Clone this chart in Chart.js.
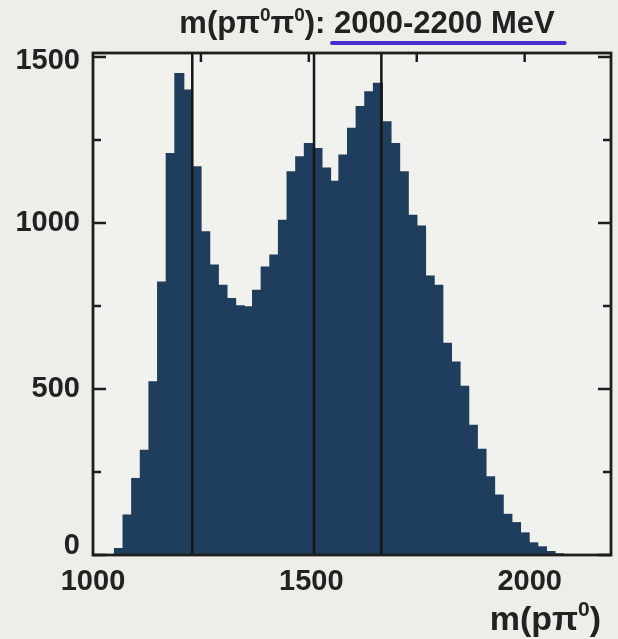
<!DOCTYPE html>
<html><head><meta charset="utf-8">
<script src="https://cdn.jsdelivr.net/npm/chart.js@4/dist/chart.umd.min.js"></script>
<style>html,body{margin:0;padding:0;background:#eeeee9;overflow:hidden}canvas{display:block}</style>
</head><body>
<canvas id="c" width="618" height="639"></canvas>
<script>
// ---- data ----
const binCenters = [1060,1080,1100,1120,1140,1160,1180,1200,1220,1240,1260,1280,1300,1320,1340,1360,1380,1400,1420,1440,1460,1480,1500,1520,1540,1560,1580,1600,1620,1640,1660,1680,1700,1720,1740,1760,1780,1800,1820,1840,1860,1880,1900,1920,1940,1960,1980,2000,2020,2040,2060,2080];
const counts = [19,120,230,315,521,822,1209,1450,1400,1169,973,873,812,772,750,747,797,867,903,1008,1154,1199,1239,1224,1165,1125,1204,1285,1350,1395,1420,1304,1239,1154,1023,990,840,812,637,581,508,390,318,235,180,122,97,66,36,24,10,3];
const yTickValues = [0, 500, 1000, 1500];
const yTickLabels = ['0', '500', '1000', '1500'];
const yMinorTicks = [0, 250, 500, 750, 1000, 1250, 1500];
const xTickValues = [1000, 1500, 2000];
const xTickLabels = ['1000', '1500', '2000'];
const xTopTicks = [1250, 1500, 1750, 2000];
const resonanceLines = [1230, 1512, 1668];
const titleParts = [
  {t: 'm(pπ'}, {t: '0', sup: true}, {t: 'π'}, {t: '0', sup: true}, {t: '): '},
  {t: '2000-2200 MeV', underline: true}
];
const xTitleParts = [{t: 'm(pπ'}, {t: '0', sup: true}, {t: ')'}];

const FONT = '"Liberation Sans", Arial, Helvetica, sans-serif';
const BG = '#eeeee9';
const INK = '#1e1e1e';

function richWidth(ctx, parts, size) {
  return parts.map(p => {
    ctx.font = 'bold ' + (p.sup ? Math.round(size * 0.62) : size) + 'px ' + FONT;
    return ctx.measureText(p.t).width;
  });
}
function drawRich(ctx, parts, x0, baseline, size, align) {
  const w = richWidth(ctx, parts, size);
  const total = w.reduce((a, b) => a + b, 0);
  let xx = align === 'center' ? x0 - total / 2 : (align === 'right' ? x0 - total : x0);
  ctx.textAlign = 'left';
  ctx.textBaseline = 'alphabetic';
  parts.forEach((p, i) => {
    ctx.font = 'bold ' + (p.sup ? Math.round(size * 0.62) : size) + 'px ' + FONT;
    ctx.fillText(p.t, xx, p.sup ? baseline - size * 0.40 : baseline);
    if (p.underline) {
      ctx.save();
      ctx.strokeStyle = '#4a2ccc';
      ctx.lineWidth = 4;
      ctx.lineCap = 'round';
      ctx.beginPath();
      ctx.moveTo(xx - 2, baseline + 10);
      ctx.lineTo(xx + w[i] + 10, baseline + 10);
      ctx.stroke();
      ctx.restore();
    }
    xx += w[i];
  });
}

const decor = {
  id: 'decor',
  beforeDraw(chart) {
    const c = chart.ctx;
    c.save(); c.fillStyle = BG; c.fillRect(0, 0, chart.width, chart.height);
    const a = chart.chartArea;
    c.fillStyle = '#f1f1ee'; c.fillRect(a.left, a.top, a.right - a.left, a.bottom - a.top);
    c.restore();
  },
  afterDatasetsDraw(chart) {
    const {ctx, chartArea: a, scales: {x, y}} = chart;
    const seg = (x1, y1, x2, y2) => { ctx.beginPath(); ctx.moveTo(x1, y1); ctx.lineTo(x2, y2); ctx.stroke(); };
    ctx.save();
    ctx.strokeStyle = '#151515';
    ctx.lineWidth = 2.5;
    resonanceLines.forEach(v => { const px = x.getPixelForValue(v); seg(px, a.top, px, a.bottom); });
    ctx.strokeStyle = INK;
    ctx.lineWidth = 2.8;
    ctx.strokeRect(a.left, a.top, a.right - a.left, a.bottom - a.top);
    ctx.lineWidth = 2.5;
    yMinorTicks.forEach(v => {
      const py = y.getPixelForValue(v);
      const len = v % 500 === 0 ? 13 : 8;
      seg(a.left, py, a.left + len, py);
      seg(a.right, py, a.right - len, py);
    });
    xTopTicks.forEach(v => { const px = x.getPixelForValue(v); seg(px, a.top, px, a.top + 9); });

    ctx.fillStyle = '#222';
    ctx.font = 'bold 29px ' + FONT;
    ctx.textAlign = 'right';
    ctx.textBaseline = 'middle';
    yTickValues.forEach((v, i) => {
      let py = y.getPixelForValue(v);
      if (v === 0) py -= 9;
      if (v === 1500) py += 4;
      ctx.fillText(yTickLabels[i], a.left - 13, py);
    });
    ctx.textAlign = 'center';
    ctx.textBaseline = 'alphabetic';
    xTickValues.forEach((v, i) => {
      ctx.fillText(xTickLabels[i], x.getPixelForValue(v) + i * 2.5, a.bottom + 35);
    });
    drawRich(ctx, xTitleParts, 601, 630, 34, 'right');
    drawRich(ctx, titleParts, 367, 33, 31, 'center');
    ctx.restore();
  }
};

new Chart(document.getElementById('c'), {
  type: 'bar',
  data: {
    datasets: [{
      data: binCenters.map((c, i) => ({x: c, y: counts[i]})),
      backgroundColor: '#1f3d5c',
      borderColor: '#1f3d5c',
      borderWidth: 0,
      inflateAmount: 0.7,
      barPercentage: 1.0,
      categoryPercentage: 1.0
    }]
  },
  options: {
    responsive: false,
    animation: false,
    devicePixelRatio: 1,
    events: [],
    layout: {padding: {top: 53, right: 7, left: 0, bottom: 0}},
    plugins: {legend: {display: false}, tooltip: {enabled: false}, title: {display: false}},
    scales: {
      x: {
        type: 'linear', min: 1000, max: 2200, offset: false,
        grid: {display: false}, border: {display: false},
        ticks: {display: false},
        afterFit: s => { s.height = 639 - 555; }
      },
      y: {
        min: 0, max: 1512,
        grid: {display: false}, border: {display: false},
        ticks: {display: false},
        afterFit: s => { s.width = 93; }
      }
    }
  },
  plugins: [decor]
});
</script>
</body></html>
